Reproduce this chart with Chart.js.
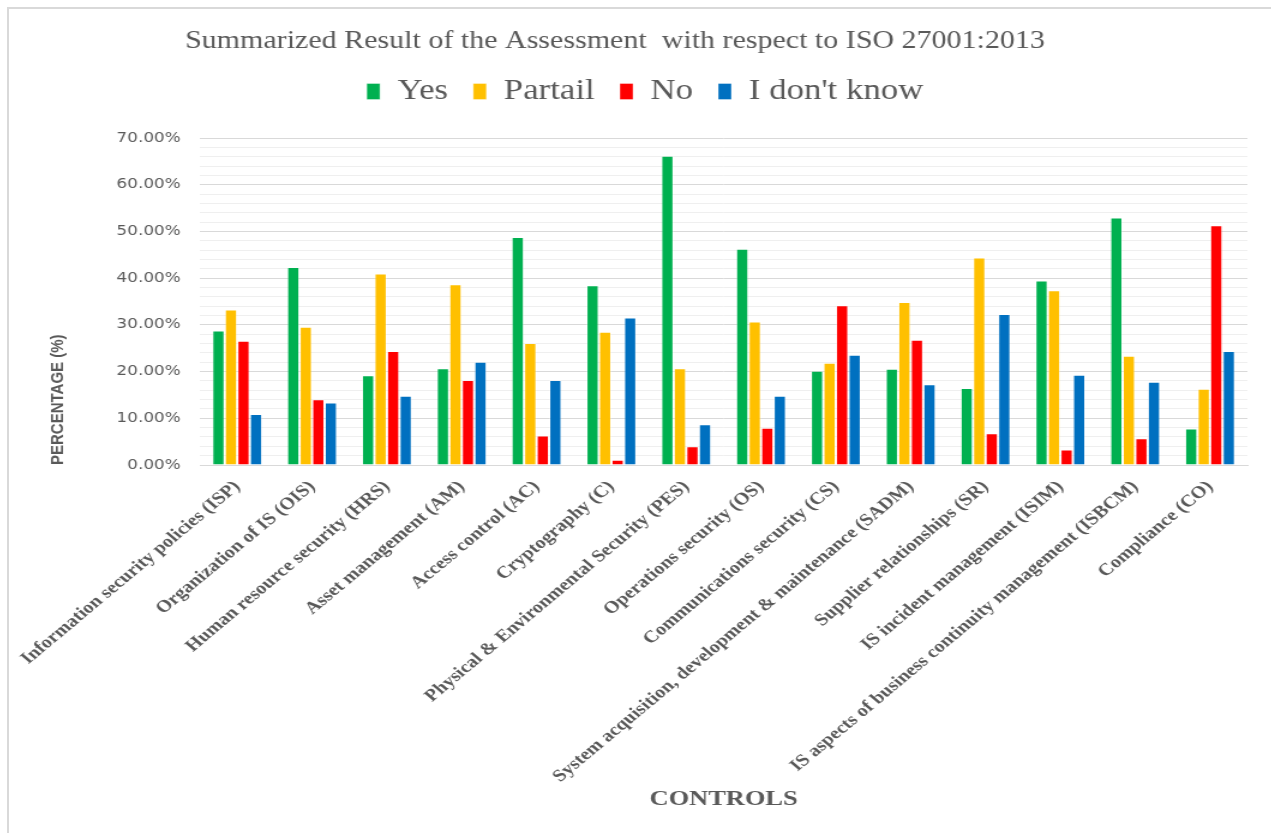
<!DOCTYPE html>
<html lang="en">
  <head>
    <title>ISO 27001:2013 assessment</title>
    <script src="https://cdn.jsdelivr.net/npm/chart.js@4.4.0/dist/chart.umd.min.js"></script>
    <style>
      body{
        margin: 0;
        background-color: #ffffff;
      }

      #frame{
        position: absolute;
        left: 7px;
        top: 7px;
        width: 1264px;
        height: 826px;
        border-top: 2px solid #d9d9d9;
        border-left: 2px solid #d9d9d9;
      }

      /* the chart is drawn narrow and stretched sideways, like the exported figure */
      #stretch{
        width: 1052px;
        height: 824px;
        transform: scaleX(1.2);
        transform-origin: 0 0;
      }
    </style>
  </head>
  <body>
    <div id="frame">
      <div id="stretch">
        <canvas id="assessmentChart"></canvas>
      </div>
    </div>

    <script>
      const controls = [
        "Information security policies (ISP)",
        "Organization of IS (OIS)",
        "Human resource security (HRS)",
        "Asset management (AM)",
        "Access control (AC)",
        "Cryptography (C)",
        "Physical & Environmental Security (PES)",
        "Operations security (OS)",
        "Communications security (CS)",
        "System acquisition, development & maintenance (SADM)",
        "Supplier relationships (SR)",
        "IS incident management (ISIM)",
        "IS aspects of business continuity management (ISBCM)",
        "Compliance (CO)"
      ];

      // percentages per control
      const yes      = [28.8, 42.4, 19.2, 20.7, 48.8, 38.5, 66.2, 46.3, 20.2, 20.6, 16.5, 39.5, 53.0, 7.8];
      const partial  = [33.3, 29.6, 41.0, 38.7, 26.1, 28.5, 20.7, 30.7, 21.9, 34.9, 44.4, 37.4, 23.4, 16.3];
      const no       = [26.6, 14.1, 24.4, 18.2, 6.3, 1.1, 4.0, 8.0, 34.2, 26.8, 6.8, 3.3, 5.7, 51.3];
      const dontKnow = [10.9, 13.4, 14.8, 22.1, 18.2, 31.6, 8.7, 14.8, 23.6, 17.3, 32.3, 19.3, 17.8, 24.4];

      const seriesNames = ["Yes", "Partail", "No", "I don't know"];
      const seriesColors = ["#00b050", "#ffc000", "#ff0000", "#0070c0"];

      const textColor = "#595959";
      const serif = "'Liberation Serif', 'Times New Roman', serif";

      const datasets = [yes, partial, no, dontKnow].map((values, i) => ({
        label: seriesNames[i],
        data: values,
        backgroundColor: seriesColors[i],
        borderColor: "rgba(255,255,255,0.35)",
        borderWidth: 1,
        categoryPercentage: 0.67,
        barPercentage: 1.0
      }));

      // leave some room between the legend and the plot
      const legendMargin = {
        id: "legendMargin",
        beforeInit(chart) {
          const fit = chart.legend.fit;
          chart.legend.fit = function () {
            fit.bind(chart.legend)();
            this.height += 22;
          };
        }
      };

      let ctx = document.getElementById("assessmentChart").getContext("2d");
      let assessmentChart = new Chart(ctx, {
        type: "bar",
        data: {
          labels: controls,
          datasets: datasets
        },
        plugins: [legendMargin],
        options: {
          responsive: true,
          maintainAspectRatio: false,
          animation: false,
          layout: {
            padding: { left: 28, right: 20, top: 0, bottom: 16 }
          },
          plugins: {
            title: {
              display: true,
              // trailing spaces nudge the centred title a little to the left
              text: "Summarized Result of the Assessment  with respect to ISO 27001:2013        ",
              color: textColor,
              font: { family: serif, size: 25, weight: "normal" },
              padding: { top: 17, bottom: 0 }
            },
            legend: {
              position: "top",
              labels: {
                color: textColor,
                font: { family: serif, size: 29 },
                boxWidth: 11,
                boxHeight: 16,
                padding: 21
              }
            },
            tooltip: { enabled: false }
          },
          scales: {
            x: {
              grid: { display: false },
              border: { display: true, color: "#d9d9d9", width: 1 },
              ticks: {
                color: textColor,
                font: { family: serif, size: 17, weight: "bold" },
                minRotation: 45,
                maxRotation: 45,
                autoSkip: false,
                padding: 4
              },
              title: {
                display: true,
                text: "CONTROLS",
                color: textColor,
                font: { family: serif, size: 22, weight: "bold" }
              },
              afterFit: (scale) => {
                scale.height = 352;
                scale.paddingLeft = 0;
                scale.paddingRight = 0;
              }
            },
            y: {
              min: 0,
              max: 70,
              border: { display: false },
              grid: {
                drawTicks: false,
                lineWidth: 1,
                color: (c) => (Math.round(c.tick.value) % 10 === 0 ? "#d9d9d9" : "#efefef")
              },
              ticks: {
                stepSize: 2,
                autoSkip: false,
                padding: 16,
                color: textColor,
                font: { family: "'DejaVu Sans', sans-serif", size: 14 },
                callback: (value) => (Math.round(value) % 10 === 0 ? Math.round(value).toFixed(2) + "%" : "")
              },
              title: {
                display: true,
                text: "PERCENTAGE (%)",
                align: "start",
                color: textColor,
                font: { family: "'Liberation Sans', Arial, sans-serif", size: 15, weight: "bold" }
              },
              afterFit: (scale) => {
                scale.width = 131;
              }
            }
          }
        }
      });
    </script>
  </body>
</html>
